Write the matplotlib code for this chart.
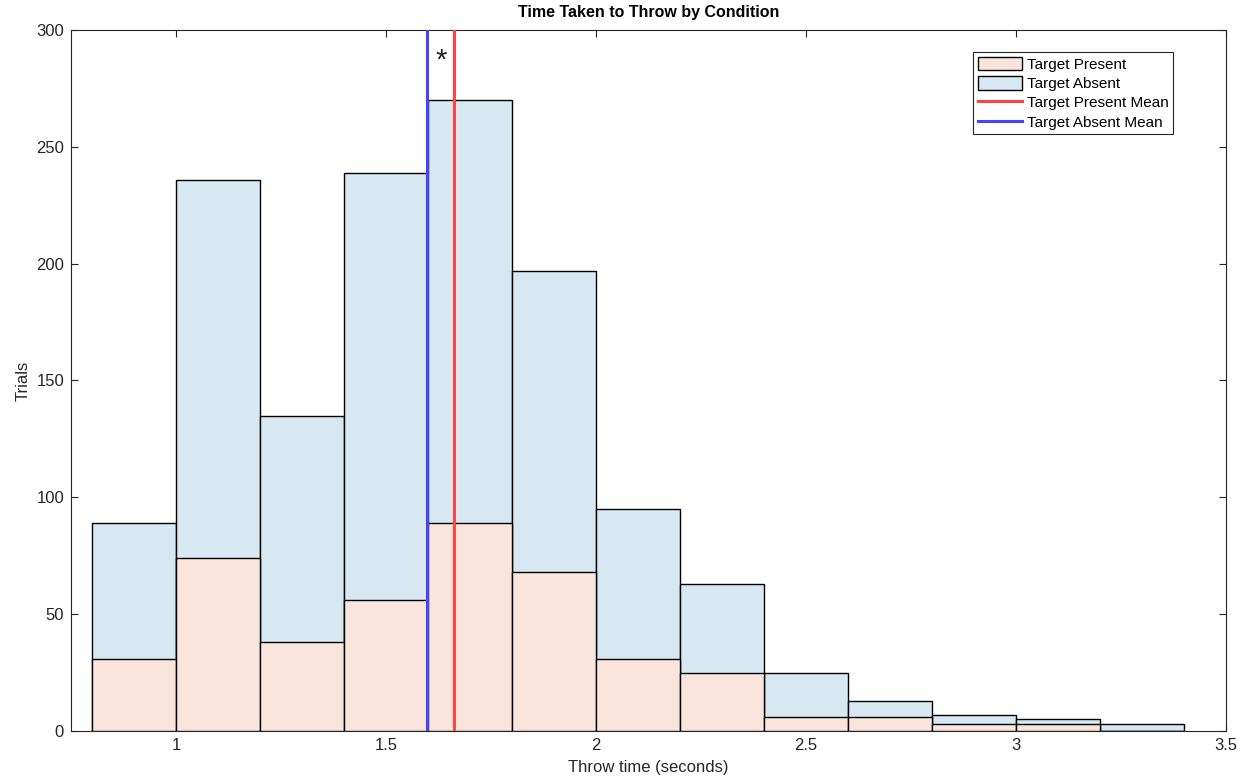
import numpy as np
import matplotlib
matplotlib.use('Agg')
import matplotlib.pyplot as plt

# bin edges (seconds) and counts
bin_edges = [0.8, 1.0, 1.2, 1.4, 1.6, 1.8, 2.0, 2.2, 2.4, 2.6, 2.8, 3.0, 3.2, 3.4]
absent_counts = [89, 236, 135, 239, 270, 197, 95, 63, 25, 13, 7, 5, 3]
present_counts = [31, 74, 38, 56, 89, 68, 31, 25, 6, 6, 3, 3, 0]
present_mean = 1.663
absent_mean = 1.597

plt.rcParams['font.family'] = ['Arial', 'Liberation Sans', 'DejaVu Sans']

fig = plt.figure(figsize=(12.47, 7.77), dpi=100)
ax = fig.add_axes([71 / 1247, 1 - 731 / 777, (1226 - 71) / 1247, (731 - 30) / 777])

edges = np.array(bin_edges)
widths = np.diff(edges)
ax.bar(edges[:-1], absent_counts, width=widths, align='edge',
       color='#d7e8f2', edgecolor='black', linewidth=1.0, label='Target Absent', zorder=2)
ax.bar(edges[:-1], present_counts, width=widths, align='edge',
       color='#f9e5dc', edgecolor='black', linewidth=1.0, label='Target Present', zorder=3)

ax.axvline(present_mean, color='#ff4444', linewidth=2.2, label='Target Present Mean', zorder=4)
ax.axvline(absent_mean, color='#4444ff', linewidth=2.2, label='Target Absent Mean', zorder=4)

ax.text(1.632, 287, '*', fontsize=21, ha='center', va='center', color='#222222')

ax.set_xlim(0.75, 3.5)
ax.set_ylim(0, 300)
ax.set_xticks([1, 1.5, 2, 2.5, 3, 3.5])
ax.set_xticklabels(['1', '1.5', '2', '2.5', '3', '3.5'])
ax.set_yticks(np.arange(0, 301, 50))
ax.tick_params(direction='in', length=5, width=0.8, labelsize=12, colors='#262626',
               top=True, right=True, pad=5)
for s in ax.spines.values():
    s.set_color('#262626')
    s.set_linewidth(0.8)

ax.set_xlabel('Throw time (seconds)', fontsize=12, color='#262626', labelpad=5)
ax.set_ylabel('Trials', fontsize=12, color='#262626', labelpad=4)
ax.set_title('Time Taken to Throw by Condition', fontsize=11.5, fontweight='bold', pad=9)

handles, labels = ax.get_legend_handles_labels()
order = ['Target Present', 'Target Absent', 'Target Present Mean', 'Target Absent Mean']
h = [handles[labels.index(o)] for o in order]
leg = ax.legend(h, order, loc='upper right', bbox_to_anchor=(0.954, 0.9686), fontsize=11,
                frameon=True, fancybox=False, edgecolor='#262626', framealpha=1,
                borderpad=0.3, labelspacing=0.28, handlelength=2.9, handleheight=1.0,
                handletextpad=0.3, borderaxespad=0)
leg.get_frame().set_linewidth(0.8)

fig.savefig('out.png', dpi=100)
